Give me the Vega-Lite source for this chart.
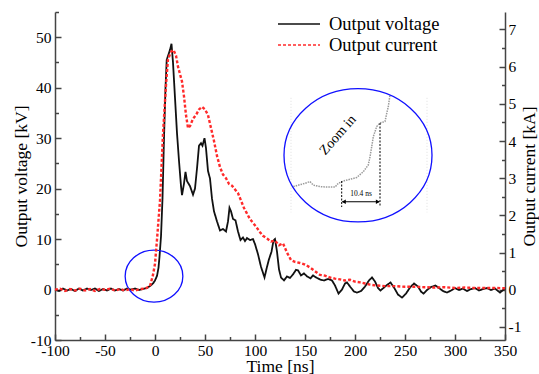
{
  "$schema": "https://vega.github.io/schema/vega-lite/v6.json",
  "width": 450,
  "height": 328,
  "autosize": "none",
  "padding": {"left": 55, "top": 12, "right": 34, "bottom": 34},
  "background": "white",
  "config": {
    "font": "Liberation Serif",
    "view": {"stroke": null},
    "axis": {
      "labelFont": "Liberation Serif",
      "labelFontSize": 15.5,
      "labelColor": "#000",
      "titleFont": "Liberation Serif",
      "titleFontSize": 17.5,
      "titleFontWeight": "normal",
      "titleColor": "#000",
      "domainColor": "#444",
      "domainWidth": 1.5,
      "tickColor": "#444",
      "tickWidth": 1.5,
      "grid": false,
      "labelOverlap": false,
      "labelFlush": false
    }
  },
  "datasets": {
    "voltage": [
      {"t": -100, "v": 0}, {"t": -96, "v": -0.3}, {"t": -92, "v": 0.2}, {"t": -88, "v": -0.2}, {"t": -84, "v": 0.1},
      {"t": -80, "v": -0.3}, {"t": -76, "v": 0.2}, {"t": -72, "v": -0.2}, {"t": -68, "v": 0.2}, {"t": -64, "v": -0.1},
      {"t": -60, "v": 0.2}, {"t": -56, "v": -0.3}, {"t": -52, "v": 0.1}, {"t": -48, "v": -0.2}, {"t": -44, "v": 0.2},
      {"t": -40, "v": -0.2}, {"t": -36, "v": 0.1}, {"t": -32, "v": -0.2}, {"t": -28, "v": 0.2}, {"t": -24, "v": 0},
      {"t": -20, "v": 0.2}, {"t": -16, "v": -0.1}, {"t": -12, "v": 0.1}, {"t": -8, "v": 0.3}, {"t": -5, "v": 0.7},
      {"t": -2, "v": 1.2}, {"t": 0, "v": 1.8}, {"t": 2, "v": 2.7}, {"t": 3.5, "v": 4.3}, {"t": 4.5, "v": 6.5},
      {"t": 6, "v": 10.5}, {"t": 7.5, "v": 18}, {"t": 9, "v": 30}, {"t": 10.5, "v": 40}, {"t": 11.7, "v": 45.5},
      {"t": 13, "v": 46.3}, {"t": 15, "v": 47.5}, {"t": 16.5, "v": 48.7}, {"t": 18, "v": 45}, {"t": 20, "v": 38},
      {"t": 22, "v": 31}, {"t": 24, "v": 25.5}, {"t": 26, "v": 20.5}, {"t": 27, "v": 18.7}, {"t": 29, "v": 21},
      {"t": 30.5, "v": 23.3}, {"t": 32, "v": 21.5}, {"t": 35, "v": 20.5}, {"t": 38, "v": 18.8}, {"t": 40, "v": 20},
      {"t": 42, "v": 24}, {"t": 44, "v": 28.5}, {"t": 46, "v": 29}, {"t": 47.5, "v": 28.5}, {"t": 49.5, "v": 30},
      {"t": 51, "v": 28}, {"t": 53, "v": 23.5}, {"t": 55, "v": 22}, {"t": 57, "v": 18}, {"t": 59, "v": 15.5},
      {"t": 62, "v": 13.5}, {"t": 65, "v": 11.7}, {"t": 68, "v": 12}, {"t": 71, "v": 11.5}, {"t": 73, "v": 13.5},
      {"t": 74.5, "v": 16.2}, {"t": 76, "v": 15.5}, {"t": 78, "v": 14}, {"t": 80.5, "v": 13.7}, {"t": 83, "v": 11.5},
      {"t": 85.5, "v": 9.8}, {"t": 88, "v": 10.3}, {"t": 90, "v": 9.6}, {"t": 92, "v": 10.2}, {"t": 95, "v": 9.8},
      {"t": 98, "v": 10}, {"t": 100, "v": 9}, {"t": 103, "v": 7}, {"t": 106, "v": 4.5}, {"t": 109.5, "v": 2.4},
      {"t": 112, "v": 4.5}, {"t": 114, "v": 6}, {"t": 116.5, "v": 7.5}, {"t": 118.5, "v": 9.7}, {"t": 120, "v": 10},
      {"t": 122, "v": 7.5}, {"t": 124, "v": 4}, {"t": 126, "v": 2.4}, {"t": 129, "v": 1.8}, {"t": 132, "v": 2.6},
      {"t": 135, "v": 2.3}, {"t": 138, "v": 3}, {"t": 141, "v": 3.9}, {"t": 143, "v": 3.8}, {"t": 146, "v": 2.8},
      {"t": 149, "v": 3.2}, {"t": 152, "v": 2.6}, {"t": 155.5, "v": 2.2}, {"t": 158, "v": 2.8}, {"t": 161, "v": 2.4},
      {"t": 165, "v": 2}, {"t": 169, "v": 1.8}, {"t": 173, "v": 2.1}, {"t": 177, "v": 1.8}, {"t": 180, "v": 0.8},
      {"t": 183.5, "v": -0.8}, {"t": 187, "v": 0}, {"t": 190, "v": 1.2}, {"t": 192, "v": 1.4}, {"t": 195, "v": 0.6},
      {"t": 199, "v": -0.4}, {"t": 202, "v": -0.6}, {"t": 206, "v": -0.3}, {"t": 210, "v": 0.6}, {"t": 214, "v": 1.8},
      {"t": 217, "v": 2.4}, {"t": 220, "v": 1.6}, {"t": 223, "v": 0.3}, {"t": 225.5, "v": -0.2}, {"t": 229, "v": 0.4},
      {"t": 232, "v": 0.9}, {"t": 235.5, "v": 1.4}, {"t": 239, "v": 0.4}, {"t": 243, "v": -1}, {"t": 247, "v": -1.6},
      {"t": 251, "v": -0.8}, {"t": 255, "v": 0.4}, {"t": 259, "v": 1.2}, {"t": 263, "v": 0.6}, {"t": 266, "v": -0.4},
      {"t": 268.5, "v": -0.8}, {"t": 272, "v": -0.1}, {"t": 276, "v": 0.5}, {"t": 280.5, "v": 0.8}, {"t": 284, "v": 0.3},
      {"t": 288, "v": -0.3}, {"t": 292, "v": -0.6}, {"t": 296, "v": -0.2}, {"t": 300, "v": 0.3}, {"t": 304, "v": -0.1},
      {"t": 308, "v": 0.2}, {"t": 312, "v": -0.3}, {"t": 316, "v": 0.1}, {"t": 320, "v": 0.3}, {"t": 324, "v": -0.2},
      {"t": 328, "v": 0.1}, {"t": 332, "v": 0.3}, {"t": 336, "v": -0.1}, {"t": 340, "v": 0.2}, {"t": 345, "v": -0.6},
      {"t": 348, "v": -0.1}, {"t": 350, "v": 0.2}
    ],
    "current": [
      {"t": -100, "v": 0}, {"t": -95, "v": 0.03}, {"t": -90, "v": -0.03}, {"t": -85, "v": 0.02}, {"t": -80, "v": -0.02},
      {"t": -75, "v": 0.03}, {"t": -70, "v": -0.02}, {"t": -65, "v": 0.02}, {"t": -60, "v": -0.03}, {"t": -55, "v": 0.02},
      {"t": -50, "v": 0}, {"t": -45, "v": 0.03}, {"t": -40, "v": -0.02}, {"t": -35, "v": 0.02}, {"t": -30, "v": -0.02},
      {"t": -25, "v": 0.02}, {"t": -20, "v": -0.02}, {"t": -15, "v": 0.02}, {"t": -10, "v": 0.03}, {"t": -5, "v": 0.1},
      {"t": -2, "v": 0.4}, {"t": 0, "v": 0.7}, {"t": 2, "v": 1.35}, {"t": 5, "v": 2.4}, {"t": 8, "v": 4.2},
      {"t": 11, "v": 5.5}, {"t": 13, "v": 6.2}, {"t": 16, "v": 6.4}, {"t": 18.5, "v": 6.45}, {"t": 21, "v": 6.3},
      {"t": 23, "v": 6.0}, {"t": 25, "v": 5.8}, {"t": 27, "v": 5.6}, {"t": 29, "v": 5.2}, {"t": 31, "v": 4.7},
      {"t": 33, "v": 4.35}, {"t": 35, "v": 4.4}, {"t": 38, "v": 4.6}, {"t": 41, "v": 4.7}, {"t": 44, "v": 4.85},
      {"t": 47, "v": 4.92}, {"t": 50, "v": 4.85}, {"t": 53, "v": 4.7}, {"t": 56, "v": 4.35}, {"t": 59, "v": 4.0},
      {"t": 62, "v": 3.6}, {"t": 65, "v": 3.3}, {"t": 68, "v": 3.1}, {"t": 71, "v": 3.0}, {"t": 74, "v": 2.85},
      {"t": 77, "v": 2.8}, {"t": 80, "v": 2.7}, {"t": 83, "v": 2.6}, {"t": 86, "v": 2.4}, {"t": 89, "v": 2.2},
      {"t": 92, "v": 2.05}, {"t": 95, "v": 1.9}, {"t": 98, "v": 1.8}, {"t": 101, "v": 1.7}, {"t": 105, "v": 1.55},
      {"t": 108, "v": 1.45}, {"t": 112, "v": 1.38}, {"t": 116, "v": 1.3}, {"t": 120, "v": 1.32}, {"t": 124, "v": 1.2},
      {"t": 128, "v": 1.25}, {"t": 132, "v": 1.0}, {"t": 136, "v": 0.8}, {"t": 140, "v": 0.75}, {"t": 145, "v": 0.72},
      {"t": 150, "v": 0.68}, {"t": 155, "v": 0.6}, {"t": 160, "v": 0.5}, {"t": 165, "v": 0.4}, {"t": 170, "v": 0.38},
      {"t": 175, "v": 0.33}, {"t": 180, "v": 0.3}, {"t": 185, "v": 0.28}, {"t": 190, "v": 0.25}, {"t": 195, "v": 0.27},
      {"t": 200, "v": 0.22}, {"t": 205, "v": 0.2}, {"t": 210, "v": 0.17}, {"t": 215, "v": 0.14}, {"t": 220, "v": 0.12},
      {"t": 230, "v": 0.1}, {"t": 240, "v": 0.1}, {"t": 250, "v": 0.08}, {"t": 260, "v": 0.08}, {"t": 270, "v": 0.07},
      {"t": 280, "v": 0.06}, {"t": 290, "v": 0.07}, {"t": 300, "v": 0.05}, {"t": 310, "v": 0.06}, {"t": 320, "v": 0.05},
      {"t": 330, "v": 0.05}, {"t": 340, "v": 0.05}, {"t": 350, "v": 0.04}
    ],
    "inset": [
      {"t": 138.3, "v": 20.4}, {"t": 150, "v": 21.05}, {"t": 155, "v": 21.4}, {"t": 158.3, "v": 20.7}, {"t": 165, "v": 20.4},
      {"t": 171.7, "v": 20.3}, {"t": 180, "v": 20.3}, {"t": 183.3, "v": 21.05}, {"t": 188.3, "v": 21.5}, {"t": 195, "v": 21.85},
      {"t": 201.7, "v": 22.2}, {"t": 208.3, "v": 23.35}, {"t": 213.3, "v": 24.7}, {"t": 215, "v": 26.3}, {"t": 216.7, "v": 28.3},
      {"t": 218.3, "v": 30.3}, {"t": 221.7, "v": 32.3}, {"t": 225, "v": 33.0}, {"t": 230, "v": 33.3}, {"t": 231.7, "v": 34.9},
      {"t": 233.3, "v": 36.25}, {"t": 235, "v": 38.6}
    ],
    "marks": [
      {"t": 186.7, "v": 21.5, "v2": 16.35},
      {"t": 225, "v": 33, "v2": 16.35}
    ],
    "frames": [
      {"t": 136, "v": 38, "v2": 15.3},
      {"t": 272, "v": 38, "v2": 15.3}
    ],
    "span": [{"t": 187.5, "t2": 224.2, "v": 17.4}],
    "heads": [
      {"t": 188.8, "v": 17.4, "end": "start"},
      {"t": 222.9, "v": 17.4, "end": "end"}
    ],
    "spanLabel": [{"t": 206, "v": 18.9, "label": "10.4 ns"}],
    "zoomLabel": [{"t": 183, "v": 30.6, "label": "Zoom in"}],
    "bigCircle": [{"t": 203, "v": 26.6}],
    "smallCircle": [{"t": -1, "v": 2.65}]
  },
  "layer": [
    {
      "data": {"name": "frames"},
      "mark": {"type": "rule", "color": "#dddddd", "strokeWidth": 1, "strokeDash": [1, 2]},
      "encoding": {
        "x": {"field": "t", "type": "quantitative", "scale": {"domain": [-100, 350], "nice": false},
          "axis": {
            "orient": "bottom",
            "title": null,
            "values": [-75, -25, 25, 75, 125, 175, 225, 275, 325],
            "labels": false,
            "domain": false,
            "tickSize": -3.5
          }},
        "y": {"field": "v", "type": "quantitative", "scale": {"domain": [-10, 55], "nice": false, "zero": false},
          "axis": {
            "orient": "left",
            "title": null,
            "values": [-5, 5, 15, 25, 35, 45, 55],
            "labels": false,
            "domain": false,
            "tickSize": -3.5
          }},
        "y2": {"field": "v2"}
      }
    },
    {
      "data": {"name": "voltage"},
      "mark": {"type": "line", "strokeWidth": 1.8},
      "encoding": {
        "x": {"field": "t", "type": "quantitative", "scale": {"domain": [-100, 350], "nice": false},
          "axis": {
            "orient": "bottom",
            "title": "Time [ns]",
            "values": [-100, -50, 0, 50, 100, 150, 200, 250, 300, 350],
            "labelExpr": "replace(datum.label, '\u2212', '-')",
            "tickSize": -6,
            "labelPadding": 9,
            "titleY": 31,
            "titleBaseline": "alphabetic"
          }},
        "y": {"field": "v", "type": "quantitative", "scale": {"domain": [-10, 55], "nice": false, "zero": false},
          "axis": {
            "orient": "left",
            "title": "Output voltage [kV]",
            "values": [-10, 0, 10, 20, 30, 40, 50],
            "labelExpr": "replace(datum.label, '\u2212', '-')",
            "tickSize": -6,
            "labelPadding": 10,
            "titleX": -29,
            "titleY": 164,
            "titleAngle": 270,
            "titleBaseline": "alphabetic"
          }},
        "color": {"datum": "Output voltage", "type": "nominal",
          "scale": {"domain": ["Output voltage", "Output current"], "range": ["#111111", "#ff2a2a"]},
          "legend": {
            "orient": "none", "legendX": 233, "legendY": 1, "title": null, "padding": 0,
            "labelFont": "Liberation Serif", "labelFontSize": 18.5, "labelColor": "#000",
            "symbolType": "M-2.1,0H2.1", "symbolSize": 400, "symbolStrokeWidth": 1.6,
            "labelOffset": 19, "rowPadding": 0
          }},
        "strokeDash": {"datum": "Output voltage", "type": "nominal",
          "scale": {"domain": ["Output voltage", "Output current"], "range": [[1, 0], [3, 2]]}}
      }
    },
    {
      "data": {"name": "inset"},
      "mark": {"type": "line", "color": "#9a9a9a", "strokeWidth": 1.5, "strokeDash": [1.5, 1]},
      "encoding": {
        "x": {"field": "t", "type": "quantitative", "scale": {"domain": [-100, 350], "nice": false}, "axis": null},
        "y": {"field": "v", "type": "quantitative", "scale": {"domain": [-10, 55], "nice": false, "zero": false}, "axis": null}
      }
    },
    {
      "data": {"name": "marks"},
      "mark": {"type": "rule", "color": "#000", "strokeWidth": 1, "strokeDash": [2, 1.5]},
      "encoding": {
        "x": {"field": "t", "type": "quantitative", "scale": {"domain": [-100, 350], "nice": false}, "axis": null},
        "y": {"field": "v", "type": "quantitative", "scale": {"domain": [-10, 55], "nice": false, "zero": false}, "axis": null},
        "y2": {"field": "v2"}
      }
    },
    {
      "data": {"name": "span"},
      "mark": {"type": "rule", "color": "#000", "strokeWidth": 1.2},
      "encoding": {
        "x": {"field": "t", "type": "quantitative", "scale": {"domain": [-100, 350], "nice": false}, "axis": null},
        "x2": {"field": "t2"},
        "y": {"field": "v", "type": "quantitative", "scale": {"domain": [-10, 55], "nice": false, "zero": false}, "axis": null}
      }
    },
    {
      "data": {"name": "heads"},
      "mark": {"type": "point", "filled": true, "color": "#000", "size": 22, "opacity": 1},
      "encoding": {
        "x": {"field": "t", "type": "quantitative", "scale": {"domain": [-100, 350], "nice": false}, "axis": null},
        "y": {"field": "v", "type": "quantitative", "scale": {"domain": [-10, 55], "nice": false, "zero": false}, "axis": null},
        "shape": {"field": "end", "type": "nominal",
          "scale": {"domain": ["start", "end"], "range": ["triangle-left", "triangle-right"]}, "legend": null}
      }
    },
    {
      "data": {"name": "spanLabel"},
      "mark": {"type": "text", "font": "Liberation Serif", "fontSize": 7.5, "color": "#000", "baseline": "middle"},
      "encoding": {
        "x": {"field": "t", "type": "quantitative", "scale": {"domain": [-100, 350], "nice": false}, "axis": null},
        "y": {"field": "v", "type": "quantitative", "scale": {"domain": [-10, 55], "nice": false, "zero": false}, "axis": null},
        "text": {"field": "label"}
      }
    },
    {
      "data": {"name": "zoomLabel"},
      "mark": {"type": "text", "font": "Liberation Serif", "fontSize": 14, "color": "#000", "angle": 311, "baseline": "middle"},
      "encoding": {
        "x": {"field": "t", "type": "quantitative", "scale": {"domain": [-100, 350], "nice": false}, "axis": null},
        "y": {"field": "v", "type": "quantitative", "scale": {"domain": [-10, 55], "nice": false, "zero": false}, "axis": null},
        "text": {"field": "label"}
      }
    },
    {
      "data": {"name": "bigCircle"},
      "mark": {"type": "point", "filled": false, "color": "#1010ff", "strokeWidth": 1.3, "opacity": 1,
        "shape": "M1,0C1,0.497,0.5523,0.9,0,0.9C-0.5523,0.9,-1,0.497,-1,0C-1,-0.497,-0.5523,-0.9,0,-0.9C0.5523,-0.9,1,-0.497,1,0Z",
        "size": 21904},
      "encoding": {
        "x": {"field": "t", "type": "quantitative", "scale": {"domain": [-100, 350], "nice": false}, "axis": null},
        "y": {"field": "v", "type": "quantitative", "scale": {"domain": [-10, 55], "nice": false, "zero": false}, "axis": null}
      }
    },
    {
      "data": {"name": "smallCircle"},
      "mark": {"type": "point", "filled": false, "color": "#1010ff", "strokeWidth": 1.3, "opacity": 1,
        "shape": "M1,0C1,0.497,0.5523,0.9,0,0.9C-0.5523,0.9,-1,0.497,-1,0C-1,-0.497,-0.5523,-0.9,0,-0.9C0.5523,-0.9,1,-0.497,1,0Z",
        "size": 3329},
      "encoding": {
        "x": {"field": "t", "type": "quantitative", "scale": {"domain": [-100, 350], "nice": false}, "axis": null},
        "y": {"field": "v", "type": "quantitative", "scale": {"domain": [-10, 55], "nice": false, "zero": false}, "axis": null}
      }
    },
    {
      "data": {"name": "current"},
      "mark": {"type": "line", "strokeWidth": 0, "strokeOpacity": 0},
      "encoding": {
        "x": {"field": "t", "type": "quantitative", "scale": {"domain": [-100, 350], "nice": false}, "axis": null},
        "y": {"field": "v", "type": "quantitative",
          "scale": {"domain": [-1.35, 7.47], "nice": false, "zero": false},
          "axis": {
            "orient": "right",
            "title": null,
            "values": [-0.5, 0.5, 1.5, 2.5, 3.5, 4.5, 5.5, 6.5],
            "labels": false,
            "domain": false,
            "tickSize": -3.5
          }}
      }
    },
    {
      "data": {"name": "current"},
      "mark": {"type": "line", "strokeWidth": 2.4},
      "encoding": {
        "x": {"field": "t", "type": "quantitative", "scale": {"domain": [-100, 350], "nice": false}, "axis": null},
        "y": {"field": "v", "type": "quantitative",
          "scale": {"domain": [-1.35, 7.47], "nice": false, "zero": false},
          "axis": {
            "orient": "right",
            "title": "Output current [kA]",
            "values": [-1, 0, 1, 2, 3, 4, 5, 6, 7],
            "format": "d",
            "labelExpr": "replace(datum.label, '\u2212', '-')",
            "tickSize": -6,
            "labelPadding": 9,
            "titleX": 15,
            "titleY": 164,
            "titleAngle": 270,
            "titleBaseline": "top"
          }},
        "color": {"datum": "Output current", "type": "nominal"},
        "strokeDash": {"datum": "Output current", "type": "nominal"}
      }
    }
  ],
  "resolve": {"scale": {"y": "independent"}, "axis": {"x": "independent"}}
}
